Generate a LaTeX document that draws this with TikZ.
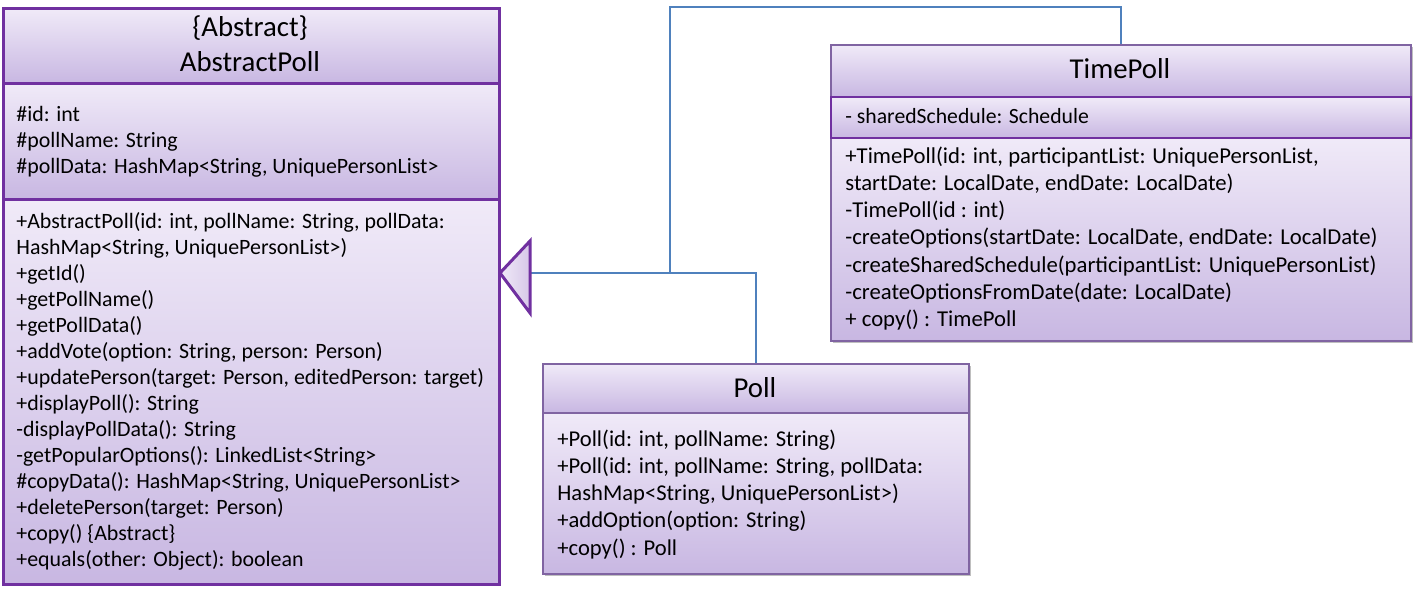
\documentclass[tikz,border=0pt]{standalone}
\usepackage{fontspec}
\setmainfont{Carlito}
\usetikzlibrary{shadows}
\definecolor{ptop}{RGB}{240,234,248}
\definecolor{pbot}{RGB}{200,183,226}
\definecolor{pdark}{RGB}{112,48,160}
\definecolor{pmid}{RGB}{128,100,162}
\definecolor{lblue}{RGB}{79,129,189}
\tikzset{
  sect/.style={draw=pdark, line width=1.5pt, top color=ptop, bottom color=pbot, anchor=north west, inner sep=0pt, rectangle},
  sectb/.style={draw=pmid, line width=0.9pt, top color=ptop, bottom color=pbot, anchor=north west, inner sep=0pt, rectangle},
  shad/.style={fill=black!25, draw=none, anchor=north west, inner sep=0pt, rectangle},
  txta/.style={anchor=base west, inner sep=0pt, font=\fontsize{10.95}{13}\selectfont},
  txtp/.style={anchor=base west, inner sep=0pt, font=\fontsize{11.3}{13}\selectfont},
  txtt/.style={anchor=base west, inner sep=0pt, font=\fontsize{11.35}{13}\selectfont},
  txtta/.style={anchor=base west, inner sep=0pt, font=\fontsize{10.85}{13}\selectfont},
  ttl/.style={anchor=base, inner sep=0pt, font=\fontsize{14.4}{17}\selectfont},
  link/.style={draw=lblue, line width=1pt},
}
\begin{document}
\begin{tikzpicture}[x=0.5pt,y=-0.5pt]
\useasboundingbox (0,0) rectangle (1419,589);
% ---------- connectors ----------
\coordinate (tri) at (530,273);
\coordinate (j1) at (670,273);
\coordinate (top) at (670,7);
% ---------- TimePoll ----------
\node[shad, minimum width=290pt, minimum height=148pt] (tpS) at (833,47) {};
\node[sectb, minimum width=290pt, minimum height=26pt] (tp) at (830,44) {};
\node[sectb, minimum width=290pt, minimum height=101.5pt] (tpM) at (830,137) {};
\node[sect, line width=1.2pt, minimum width=290pt, minimum height=20.5pt] (tpA) at (830,96) {};
\node[ttl] (tpT) at (1120,78) {TimePoll};
\node[txtta] (tpa1) at (845,123) {- sharedSchedule: Schedule};
\foreach \t [count=\i from 0] in {
  {+TimePoll(id: int, participantList: UniquePersonList,},
  {startDate: LocalDate, endDate: LocalDate)},
  {-TimePoll(id : int)},
  {-createOptions(startDate: LocalDate, endDate: LocalDate)},
  {-createSharedSchedule(participantList: UniquePersonList)},
  {-createOptionsFromDate(date: LocalDate)},
  {+ copy() : TimePoll}}
  \node[txtt] (tpm\i) at (845,163+27.3*\i) {\t};
% ---------- Poll ----------
\node[shad, minimum width=213pt, minimum height=105pt] (pS) at (545,366) {};
\node[sectb, minimum width=213pt, minimum height=24.5pt] (poll) at (542,363) {};
\node[sectb, minimum width=213pt, minimum height=80.5pt] (pollM) at (542,412) {};
\node[ttl] (pT) at (755,397) {Poll};
\foreach \t [count=\i from 0] in {
  {+Poll(id: int, pollName: String)},
  {+Poll(id: int, pollName: String, pollData:},
  {HashMap<String, UniquePersonList>)},
  {+addOption(option: String)},
  {+copy() : Poll}}
  \node[txtp] (pm\i) at (557,446+27.3*\i) {\t};
% ---------- AbstractPoll ----------
\node[sect, minimum width=248pt, minimum height=37.5pt] (ap) at (2,7) {};
\node[sect, minimum width=248pt, minimum height=58pt] (apA) at (2,82) {};
\node[sect, minimum width=248pt, minimum height=192.5pt] (apM) at (2,198) {};
\node[ttl] (apT1) at (250,36) {\{Abstract\}};
\node[ttl] (apT2) at (250,71) {AbstractPoll};
\foreach \t [count=\i from 0] in {
  {\#id: int},
  {\#pollName: String},
  {\#pollData: HashMap<String, UniquePersonList>}}
  \node[txta] (apa\i) at (16,121+26*\i) {\t};
\foreach \t [count=\i from 0] in {
  {+AbstractPoll(id: int, pollName: String, pollData:},
  {HashMap<String, UniquePersonList>)},
  {+getId()},
  {+getPollName()},
  {+getPollData()},
  {+addVote(option: String, person: Person)},
  {+updatePerson(target: Person, editedPerson: target)},
  {+displayPoll(): String},
  {-displayPollData(): String},
  {-getPopularOptions(): LinkedList<String>},
  {\#copyData(): HashMap<String, UniquePersonList>},
  {+deletePerson(target: Person)},
  {+copy() \{Abstract\}},
  {+equals(other: Object): boolean}}
  \node[txta] (apm\i) at (16,228+26*\i) {\t};
% ---------- generalisation lines ----------
\draw[link] (tri) -- (poll.north |- tri) -- (poll.north);
\draw[link] (j1) -- (top) -- (tp.north |- top) -- (tp.north);
% ---------- triangle ----------
\draw[draw=pdark, line width=1.5pt, left color=ptop, right color=pbot!85!pdark!60]
  (500,273) -- (530,241) -- (530,313) -- cycle;
\end{tikzpicture}
\end{document}
